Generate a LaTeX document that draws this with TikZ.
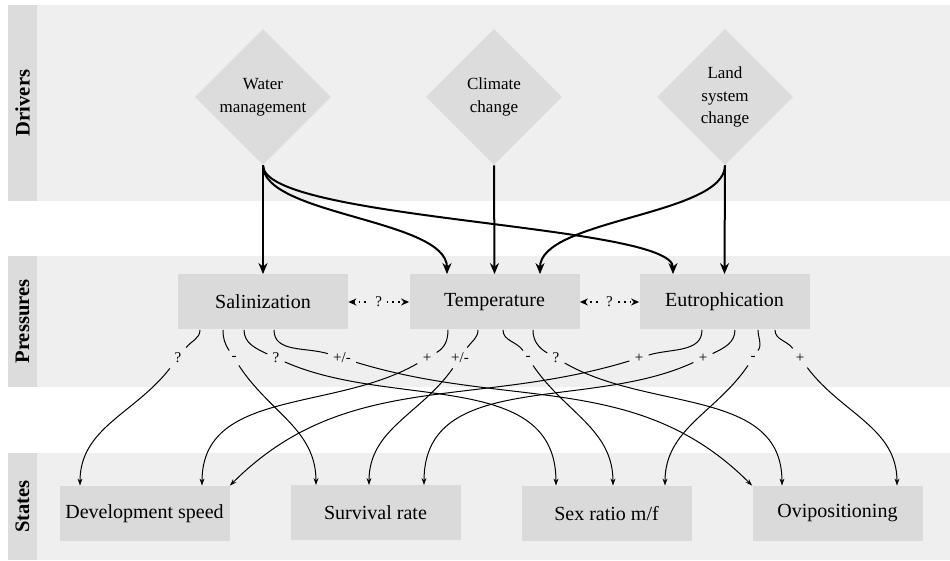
\documentclass[tikz,border=0pt]{standalone}
\usepackage{fontspec}
\setmainfont{Liberation Serif}
\usetikzlibrary{shapes.geometric,arrows.meta}
\definecolor{bandbg}{HTML}{EFEFEF}
\definecolor{sidebg}{HTML}{DCDCDC}
\definecolor{boxbg}{HTML}{DADADA}
\begin{document}
\begin{tikzpicture}[x=0.5pt,y=-0.5pt,
  box/.style={fill=boxbg, minimum width=85pt, minimum height=27.5pt, inner sep=0pt, font=\fontsize{10}{12}\selectfont},
  drv/.style={diamond, aspect=1, fill=sidebg, minimum width=68pt, minimum height=68pt, inner sep=0pt, align=center, font=\fontsize{8.5}{11.3}\selectfont},
  side/.style={rotate=90, font=\bfseries\fontsize{10.3}{12}\selectfont},
  big/.style={line width=1pt, -{Stealth[length=5.5pt,width=4.5pt]}},
  thin/.style={line width=0.5pt},
  thinarr/.style={line width=0.5pt, -{Stealth[length=3.5pt,width=2.4pt]}},
  dotarr/.style={line width=0.8pt, dotted, {Stealth[length=4pt,width=3.5pt]}-{Stealth[length=4pt,width=3.5pt]}},
  lab/.style={fill=bandbg, inner sep=2.5pt, font=\fontsize{7.5}{9}\selectfont},
]
\useasboundingbox (0,0) rectangle (950,561);
% bands
\fill[bandbg] (8,5) rectangle (950,201);
\fill[sidebg] (8,5) rectangle (37,201);
\fill[bandbg] (8,256) rectangle (950,387);
\fill[sidebg] (8,256) rectangle (37,387);
\fill[bandbg] (8,453) rectangle (950,560);
\fill[sidebg] (8,453) rectangle (37,560);
\node[side] (tD) at (22.5,103) {Drivers};
\node[side] (tP) at (22.5,321.5) {Pressures};
\node[side] (tS) at (22.5,506.5) {States};
% drivers
\node[drv] (wm) at (263,97) {Water\\management};
\node[drv] (cc) at (494,97) {Climate\\change};
\node[drv] (ls) at (725,97) {Land\\system\\change};
% pressures
\node[box] (sal) at (263,302) {Salinization};
\node[box] (tmp) at (494.5,302) {Temperature};
\node[box] (eut) at (724.5,302) {Eutrophication};
% states
\node[box] (dev) at (144.5,513.5) {Development speed};
\node[box] (srv) at (375.5,513) {Survival rate};
\node[box] (sex) at (606.5,513.5) {Sex ratio m/f};
\node[box] (ovi) at (837.5,513.5) {Ovipositioning};
% driver arrows
\draw[big] (wm.south) -- (sal.north);
\draw[big] (wm.south) .. controls +(0,50) and +(0,-55) .. ([xshift=-23.75pt]tmp.north);
\draw[big] (wm.south) .. controls +(0,55) and +(0,-50) .. ([xshift=-25.75pt]eut.north);
\draw[big] (cc.south) -- (tmp.north);
\draw[big] (ls.south) .. controls +(0,50) and +(0,-55) .. ([xshift=22.75pt]tmp.north);
\draw[big] (ls.south) -- (eut.north);
% dotted double arrows
\draw[dotarr] (sal.east) -- node[lab] (q1) {?} (tmp.west);
\draw[dotarr] (tmp.east) -- node[lab] (q2) {?} (eut.west);
% labels
\node[lab] (l1) at (178,358) {?};
\node[lab] (l2) at (234,358) {-};
\node[lab] (l3) at (276,358) {?};
\node[lab] (l4) at (342,358) {+/-};
\node[lab] (l5) at (427,358) {+};
\node[lab] (l6) at (460,358) {+/-};
\node[lab] (l7) at (528,358) {-};
\node[lab] (l8) at (556,358) {?};
\node[lab] (l9) at (639,358) {+};
\node[lab] (l10) at (703,358) {+};
\node[lab] (l11) at (753,358) {-};
\node[lab] (l12) at (800,358) {+};
% salinization
\draw[thin] ([xshift=-31.5pt]sal.south) to[out=-90,in=52] (l1);
\draw[thinarr] (l1) to[out=-128,in=90] ([xshift=-32.25pt]dev.north);
\draw[thin] ([xshift=-20pt]sal.south) to[out=-90,in=123] (l2);
\draw[thinarr] (l2) to[out=-57,in=90] ([xshift=-29.75pt]srv.north);
\draw[thin] ([xshift=-9.5pt]sal.south) to[out=-90,in=155] (l3);
\draw[thinarr] (l3) to[out=-24,in=90] ([xshift=-25.25pt]sex.north);
\draw[thin] ([xshift=5.5pt]sal.south) to[out=-90,in=163] (l4);
\draw[thinarr] (l4) to[out=-17,in=135] (ovi.north west);
% temperature
\draw[thin] ([xshift=-23.25pt]tmp.south) to[out=-90,in=30] (l5);
\draw[thinarr] (l5) to[out=-150,in=90] ([xshift=28.75pt]dev.north);
\draw[thin] ([xshift=-8.25pt]tmp.south) to[out=-90,in=55] (l6);
\draw[thinarr] (l6) to[out=-125,in=90] ([xshift=-3.25pt]srv.north);
\draw[thin] ([xshift=4.25pt]tmp.south) to[out=-90,in=124] (l7);
\draw[thinarr] (l7) to[out=-56,in=90] ([xshift=3.25pt]sex.north);
\draw[thin] ([xshift=19.25pt]tmp.south) to[out=-90,in=150] (l8);
\draw[thinarr] (l8) to[out=-30,in=90] ([xshift=-27.75pt]ovi.north);
% eutrophication
\draw[thin] ([xshift=-11.25pt]eut.south) to[out=-90,in=17] (l9);
\draw[thinarr] (l9) to[out=-163,in=45] (dev.north east);
\draw[thin] ([xshift=5.25pt]eut.south) to[out=-90,in=25] (l10);
\draw[thinarr] (l10) to[out=-155,in=90] ([xshift=24.25pt]srv.north);
\draw[thin] ([xshift=16.75pt]eut.south) to[out=-90,in=56] (l11);
\draw[thinarr] (l11) to[out=-124,in=90] ([xshift=29.25pt]sex.north);
\draw[thin] ([xshift=25.25pt]eut.south) to[out=-90,in=127] (l12);
\draw[thinarr] (l12) to[out=-53,in=90] ([xshift=29.75pt]ovi.north);
\end{tikzpicture}
\end{document}
